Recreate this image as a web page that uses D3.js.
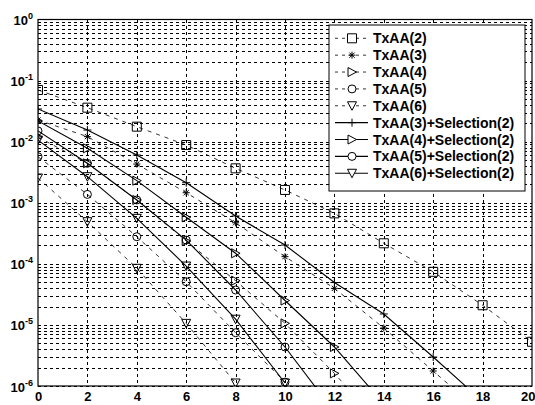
<!DOCTYPE html>
<html>
<head>
<meta charset="utf-8">
<script src="https://cdn.jsdelivr.net/npm/d3@7"></script>
<style>
  html, body { margin: 0; padding: 0; background: #fff; }
  svg { display: block; }
  text { font-family: "Liberation Sans", Arial, sans-serif; fill: #000; }
</style>
</head>
<body>
<svg id="chart" width="535" height="405"></svg>
<script>
// SNR points (dB) shared by every curve
const snr = [0, 2, 4, 6, 8, 10, 12, 14, 16, 18, 20];

// Bit error rate per scheme; values below 1e-6 fall outside the axis
const txaa2 = [0.0702, 0.036, 0.0176, 0.0088, 0.00366, 0.00162, 6.7e-4, 2.17e-4, 7.4e-5, 2.1e-5, 5.3e-6];
const txaa3 = [0.0226, 0.0121, 0.0043, 0.00146, 4.7e-4, 1.31e-4, 3.97e-5, 8.9e-6, 1.76e-6, 3.5e-7];
const txaa4 = [0.0119, 0.00442, 0.00111, 2.36e-4, 5.3e-5, 1.06e-5, 1.61e-6, 2.0e-7];
const txaa5 = [0.00567, 0.00137, 2.78e-4, 5.1e-5, 7.45e-6, 1.16e-6];
const txaa6 = [0.00254, 4.9e-4, 8.45e-5, 1.06e-5, 1.12e-6];
const txaa3Sel = [0.0343, 0.0155, 0.00605, 0.00213, 6.07e-4, 2.03e-4, 4.94e-5, 1.51e-5, 2.98e-6, 5.6e-7];
const txaa4Sel = [0.0218, 0.00778, 0.0023, 5.78e-4, 1.49e-4, 2.51e-5, 4.35e-6, 5.1e-7];
const txaa5Sel = [0.015, 0.00442, 0.00111, 2.45e-4, 3.73e-5, 4.35e-6, 3.75e-7];
const txaa6Sel = [0.0106, 0.00267, 5.56e-4, 9.2e-5, 1.24e-5, 1.12e-6];

const seriesNames = ["TxAA(2)", "TxAA(3)", "TxAA(4)", "TxAA(5)", "TxAA(6)",
  "TxAA(3)+Selection(2)", "TxAA(4)+Selection(2)", "TxAA(5)+Selection(2)", "TxAA(6)+Selection(2)"];
const seriesValues = [txaa2, txaa3, txaa4, txaa5, txaa6, txaa3Sel, txaa4Sel, txaa5Sel, txaa6Sel];
const seriesMarkers = ["square", "asterisk", "right", "circle", "down", "plus", "right", "circle", "down"];
const seriesDashed = [true, true, true, true, true, false, false, false, false];

const xTicks = [0, 2, 4, 6, 8, 10, 12, 14, 16, 18, 20];
const yExponents = [0, -1, -2, -3, -4, -5, -6];

const svg = d3.select("#chart");
const L = 38, R = 532, T = 19.5, B = 386;

const x = d3.scaleLinear().domain([0, 20]).range([L, R]);
const y = d3.scaleLog().domain([1e-6, 1]).range([B, T]);

svg.append("defs").append("clipPath").attr("id", "plotClip")
  .append("rect").attr("x", L).attr("y", T).attr("width", R - L).attr("height", B - T);

// Dashed grid: every decade subdivision and every x tick
const grid = svg.append("g").attr("stroke", "#000").attr("stroke-width", 1)
  .attr("stroke-dasharray", "3,3").attr("fill", "none").attr("shape-rendering", "crispEdges");
const yGridVals = [];
for (let e = -6; e < 0; e++) for (let m = 1; m <= 9; m++) yGridVals.push(m * Math.pow(10, e));
grid.selectAll("line.h").data(yGridVals).enter().append("line")
  .attr("x1", L).attr("x2", R).attr("y1", d => Math.round(y(d)) + 0.5).attr("y2", d => Math.round(y(d)) + 0.5);
grid.selectAll("line.v").data(xTicks.slice(1, -1)).enter().append("line")
  .attr("y1", T).attr("y2", B).attr("x1", d => Math.round(x(d)) + 0.5).attr("x2", d => Math.round(x(d)) + 0.5);

// Marker shapes
function markerPath(kind) {
  switch (kind) {
    case "square": return "M-4.5,-4.5H4.5V4.5H-4.5Z";
    case "asterisk": return "M-3.5,0H3.5M0,-3.5V3.5M-2.6,-2.6L2.6,2.6M-2.6,2.6L2.6,-2.6";
    case "plus": return "M-4,0H4M0,-4V4";
    case "right": return "M-4,-4.5L4.5,0L-4,4.5Z";
    case "circle": return "M4,0A4,4 0 1,1 -4,0A4,4 0 1,1 4,0Z";
    case "down": return "M-4.5,-4L4.5,-4L0,4.5Z";
  }
}

const plot = svg.append("g").attr("clip-path", "url(#plotClip)");
const line = d3.line().x(d => x(d[0])).y(d => y(d[1]));

seriesValues.forEach((vals, i) => {
  const pts = vals.map((v, j) => [snr[j], v]);
  plot.append("path").datum(pts)
    .attr("d", line)
    .attr("fill", "none")
    .attr("stroke", "#000")
    .attr("stroke-width", seriesDashed[i] ? 0.8 : 1.1)
    .attr("stroke-dasharray", seriesDashed[i] ? "4,5" : null);
  plot.selectAll(null).data(pts.filter(p => p[1] >= 1e-6)).enter().append("path")
    .attr("transform", d => `translate(${x(d[0])},${y(d[1])})`)
    .attr("d", markerPath(seriesMarkers[i]))
    .attr("fill", "none")
    .attr("stroke", "#000")
    .attr("stroke-width", 1);
});

// Frame
svg.append("rect").attr("x", L).attr("y", T).attr("width", R - L).attr("height", B - T)
  .attr("fill", "none").attr("stroke", "#000").attr("stroke-width", 1.2);

// Axes
const xAxis = d3.axisBottom(x).tickValues(xTicks).tickSize(0).tickPadding(6).tickFormat(d3.format("d"));
const gx = svg.append("g").attr("transform", `translate(0,${B})`).call(xAxis);
gx.select(".domain").remove();
gx.selectAll("text").attr("font-size", 13).attr("font-weight", "bold")
  .attr("font-family", "'Liberation Sans', Arial, sans-serif");
// keep the last label inside the page edge
gx.selectAll(".tick").filter(d => d === 20).select("text").attr("text-anchor", "end").attr("x", 3);

const yAxis = d3.axisLeft(y).tickValues(yExponents.map(e => Math.pow(10, e))).tickSize(0).tickPadding(0).tickFormat("");
const gy = svg.append("g").attr("transform", `translate(${L},0)`).call(yAxis);
gy.select(".domain").remove();
gy.selectAll(".tick").each(function(d) {
  const t = d3.select(this).append("text")
    .attr("x", -5).attr("y", 5).attr("text-anchor", "end")
    .attr("font-size", 13).attr("font-weight", "bold").attr("fill", "#000");
  t.append("tspan").text("10");
  t.append("tspan").attr("dy", -6).attr("font-size", 9).text(String(Math.round(Math.log10(d))));
});

// Legend
const lg = svg.append("g");
lg.append("rect").attr("x", 329).attr("y", 25).attr("width", 196).attr("height", 166)
  .attr("fill", "#fff").attr("stroke", "#000").attr("stroke-width", 1);
const rowY = i => 38.3 + i * 16.87;
seriesNames.forEach((name, i) => {
  const g = lg.append("g").attr("transform", `translate(0,${rowY(i)})`);
  g.append("line").attr("x1", 335).attr("x2", 368).attr("y1", 0).attr("y2", 0)
    .attr("stroke", "#000").attr("stroke-width", seriesDashed[i] ? 0.8 : 1.1)
    .attr("stroke-dasharray", seriesDashed[i] ? "3,4" : null);
  g.append("path").attr("transform", "translate(352,0)").attr("d", markerPath(seriesMarkers[i]))
    .attr("fill", "#fff").attr("stroke", "#000").attr("stroke-width", 1);
  g.append("text").attr("x", 373).attr("y", 5).attr("font-size", 14).attr("font-weight", "bold").text(name);
});
</script>
</body>
</html>
